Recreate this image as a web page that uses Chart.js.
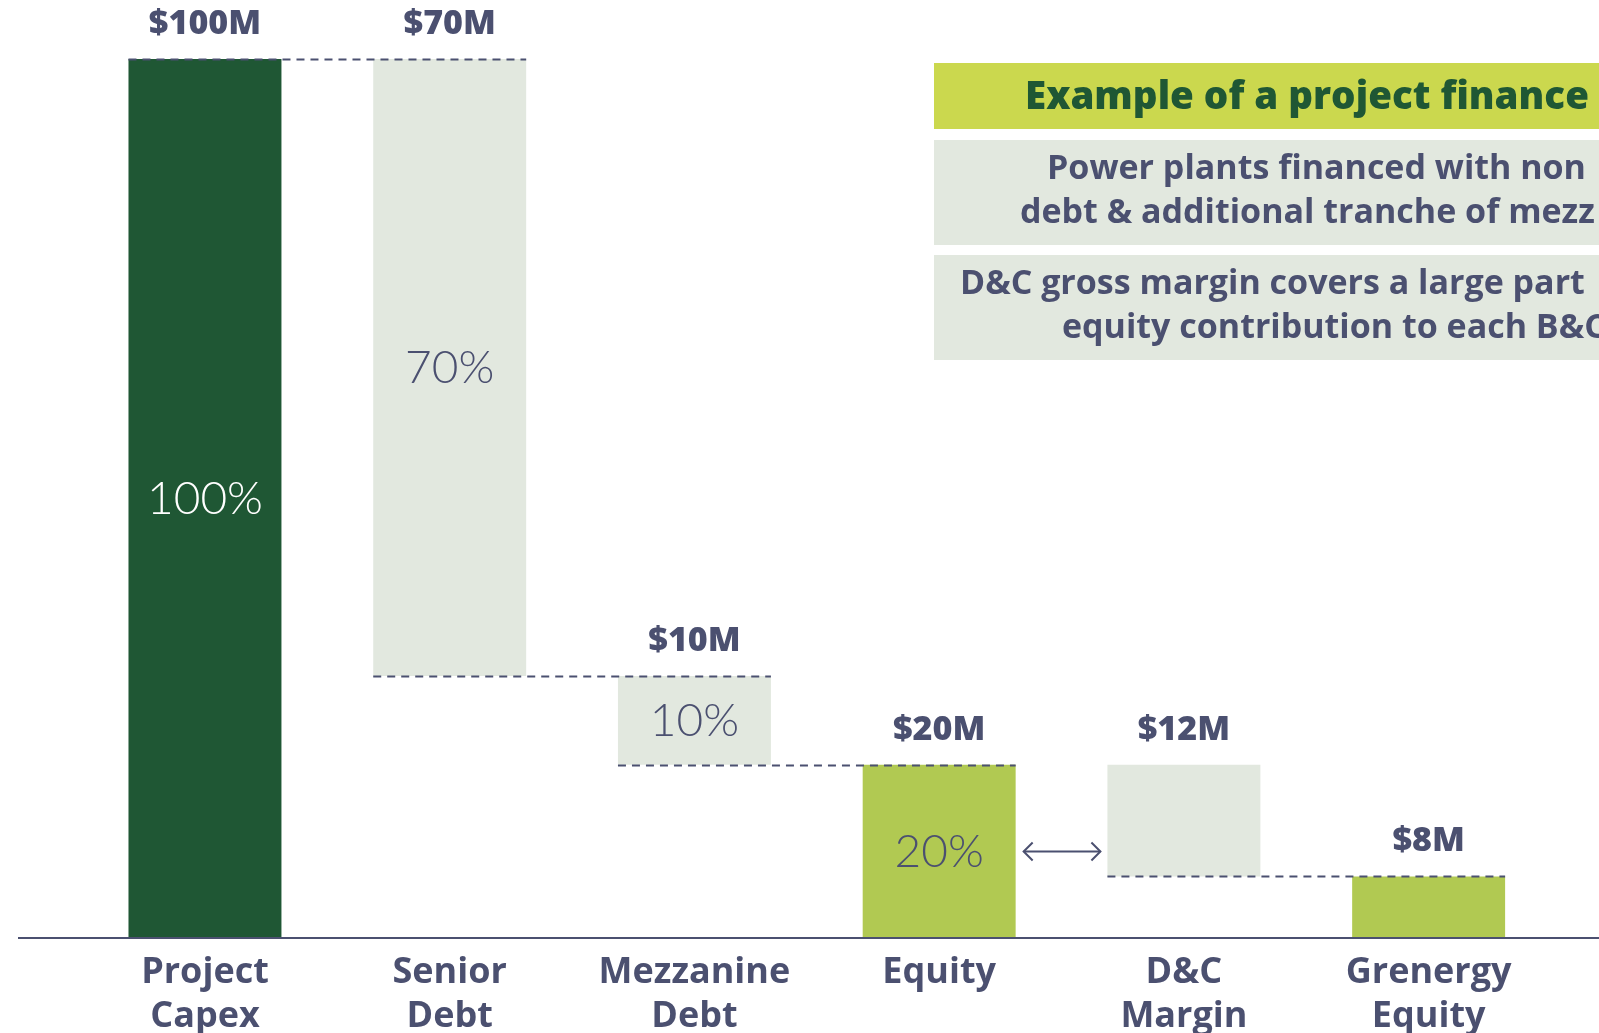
<!DOCTYPE html>
<html><head><meta charset="utf-8">
<script src="https://cdn.jsdelivr.net/npm/chart.js@4"></script>
<style>html,body{margin:0;padding:0;background:#fff;overflow:hidden}canvas{display:block}</style>
</head><body>
<canvas id="c" width="1599" height="1033"></canvas>
<script>
// ---- data ----
const categories = [['Project','Capex'],['Senior','Debt'],['Mezzanine','Debt'],['Equity'],['D&C','Margin'],['Grenergy','Equity']];
const barBase = [0, 29.8, 19.7, 0, 7, 0];
const barTop = [100, 100, 29.8, 19.7, 19.7, 7];
const valueLabels = ['$100M','$70M','$10M','$20M','$12M','$8M'];
const shareLabels = ['100%','70%','10%','20%','',''];
const connectorFrom = [0, 1, 2, 4];
const arrowBetween = [3, 4];
const noteTitle = 'Example of a project finance';
const noteBox1 = ['Power plants financed with non','debt & additional tranche of mezz'];
const noteBox2 = ['D&C gross margin covers a large part','equity contribution to each B&C'];

// ---- styles ----
const C = {dark:'#1f5734', light:'#e2e8df', lime:'#b1c952', header:'#cbd84e', text:'#4b5070', white:'#ffffff'};
const barColors = [C.dark, C.light, C.light, C.lime, C.light, C.lime];
const shareColors = [C.white, C.text, C.text, C.text, C.text, C.text];

const overlay = {
  id:'overlay',
  afterDatasetsDraw(chart){
    const ctx = chart.ctx;
    const ys = chart.scales.y;
    const els = chart.getDatasetMeta(0).data;
    const y0 = ys.getPixelForValue(0);
    ctx.save();
    // baseline
    ctx.strokeStyle = C.text; ctx.lineWidth = 2;
    ctx.beginPath(); ctx.moveTo(18, y0); ctx.lineTo(chart.width, y0); ctx.stroke();
    // connectors
    ctx.setLineDash([8,6]); ctx.lineWidth = 1.8;
    connectorFrom.forEach(i=>{
      const a = els[i], b = els[i+1];
      const y = Math.round(ys.getPixelForValue(barTop[i+1])) + 0.5;
      ctx.beginPath(); ctx.moveTo(a.x - a.width/2, y); ctx.lineTo(b.x + b.width/2, y); ctx.stroke();
    });
    ctx.setLineDash([]);
    // arrow
    {
      const a = els[arrowBetween[0]], b = els[arrowBetween[1]];
      const i = arrowBetween[0];
      const y = ys.getPixelForValue((barBase[i]+barTop[i])/2);
      const x1 = a.x + a.width/2 + 8, x2 = b.x - b.width/2 - 7;
      ctx.lineWidth = 2; ctx.strokeStyle = C.text;
      ctx.beginPath(); ctx.moveTo(x1, y); ctx.lineTo(x2, y); ctx.stroke();
      ctx.beginPath(); ctx.moveTo(x1+9, y-9); ctx.lineTo(x1, y); ctx.lineTo(x1+9, y+9); ctx.stroke();
      ctx.beginPath(); ctx.moveTo(x2-9, y-9); ctx.lineTo(x2, y); ctx.lineTo(x2-9, y+9); ctx.stroke();
    }
    ctx.textAlign = 'center'; ctx.textBaseline = 'middle';
    els.forEach((el,i)=>{
      // value labels
      ctx.fillStyle = C.text;
      ctx.font = '800 34px "Open Sans"';
      ctx.fillText(valueLabels[i], el.x, el.y - 35);
      // share labels
      if (shareLabels[i]) {
        ctx.fillStyle = shareColors[i];
        ctx.font = '300 46px Lato';
        ctx.fillText(shareLabels[i], el.x, (el.y + el.base)/2 + 1);
      }
      // categories
      ctx.fillStyle = C.text;
      ctx.font = '700 36px "Open Sans"';
      categories[i].forEach((t,k)=> ctx.fillText(t, el.x, y0 + 35 + k*44));
    });
    // note boxes
    ctx.fillStyle = C.header; ctx.fillRect(934, 63, chart.width-934, 66);
    ctx.fillStyle = C.light; ctx.fillRect(934, 140, chart.width-934, 105);
    ctx.fillRect(934, 255, chart.width-934, 105);
    ctx.textAlign = 'left';
    ctx.fillStyle = C.dark; ctx.font = '800 38.5px "Open Sans"';
    ctx.fillText(noteTitle, 1025, 98);
    ctx.fillStyle = C.text; ctx.font = '700 34px "Open Sans"';
    ctx.fillText(noteBox1[0], 1047, 169);
    ctx.fillText(noteBox1[1], 1020, 213);
    ctx.fillText(noteBox2[0], 960, 284);
    ctx.fillText(noteBox2[1], 1062, 328);
    ctx.restore();
  }
};

new Chart(document.getElementById('c'), {
  type:'bar',
  data:{
    labels: categories,
    datasets:[{
      data: barBase.map((b,i)=>[b, barTop[i]]),
      backgroundColor: barColors,
      borderWidth: 0,
      categoryPercentage: 0.625,
      barPercentage: 1
    }]
  },
  options:{
    responsive:false,
    animation:false,
    layout:{padding:{top:59, bottom:95, left:82.6, right:48}},
    plugins:{legend:{display:false}, tooltip:{enabled:false}},
    scales:{
      x:{display:false},
      y:{display:false, min:0, max:100}
    }
  },
  plugins:[overlay]
});
</script>
</body></html>
